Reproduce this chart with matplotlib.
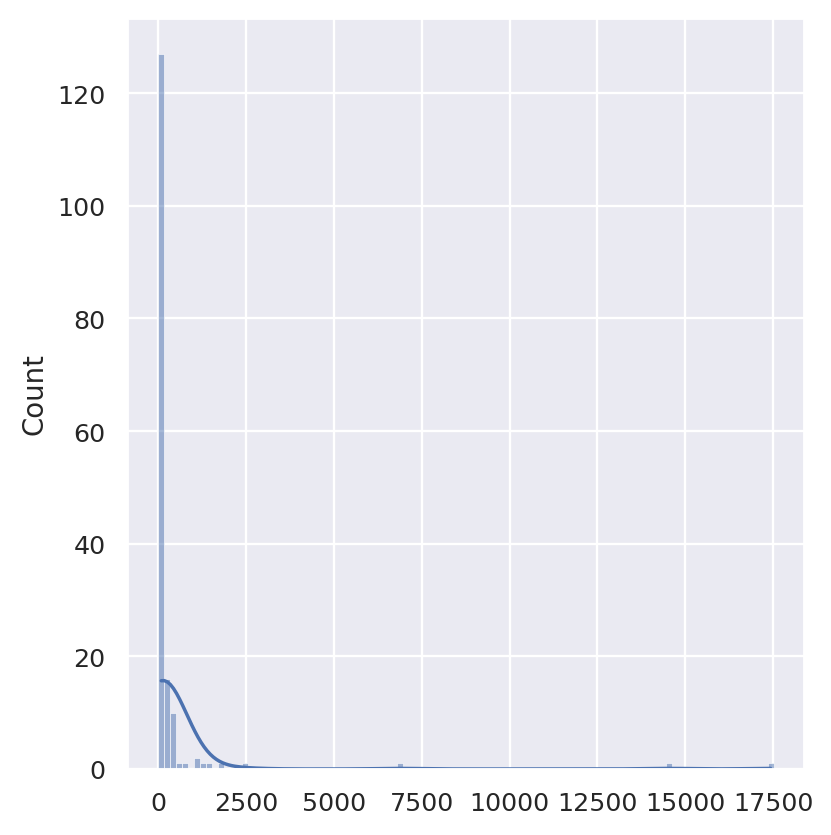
import numpy as np
import matplotlib
matplotlib.use("Agg")
import matplotlib.pyplot as plt
import seaborn as sns

# Representative values (bin centres) and their counts
values = [89, 259, 429, 599, 769, 1109, 1279, 1449, 1789, 2469, 6889, 14539, 17429]
counts = [127, 16, 10, 1, 1, 2, 1, 1, 1, 1, 1, 1, 1]
data_min = 4
data_max = 17514
n_bins = 103

data = np.repeat(np.array(values, dtype=float), counts)

sns.set_theme()
plt.rcParams['font.family'] = ['DejaVu Sans']

DPI = 166
fig = plt.figure(figsize=(831 / DPI, 836 / DPI), dpi=DPI)
ax = fig.add_axes([127.5 / 831, (836 - 770) / 836, 676.8 / 831, 751 / 836])

sns.histplot(x=data, bins=n_bins, binrange=(data_min, data_max), kde=True, ax=ax)
ax.set_xticks([0, 2500, 5000, 7500, 10000, 12500, 15000, 17500])
ax.set_ylabel("Count")
ax.set_xlabel("")

fig.savefig("out.png", dpi=DPI)
